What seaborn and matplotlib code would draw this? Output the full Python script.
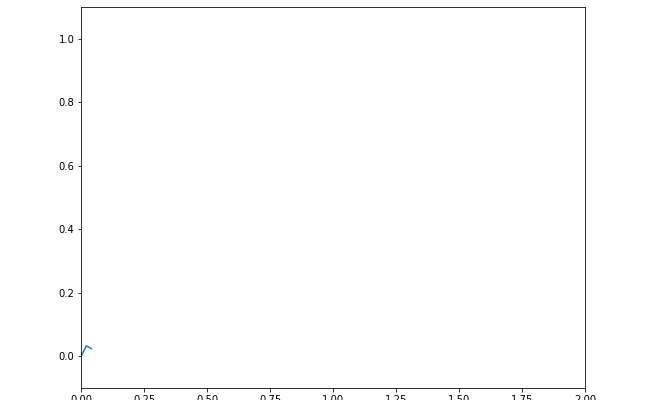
import pandas as pd
import matplotlib
matplotlib.use('Agg')
import matplotlib.pyplot as plt
import seaborn as sns

# 数据：曲线刚开始的几个点
x_vals = [0.0, 0.02, 0.04]
y_vals = [0.0, 0.033, 0.024]

df = pd.DataFrame({'x': x_vals, 'y': y_vals})

fig = plt.figure(figsize=(650 / 72, 400 / 72), dpi=72)
ax = fig.add_subplot(111)
fig.subplots_adjust(left=0.125, right=0.9, top=0.9825, bottom=0.03)

sns.lineplot(x='x', y='y', data=df, ax=ax, color='#1f77b4', linewidth=1.5,
             sort=False, estimator=None)
ax.set_xlim(0, 2)
ax.set_ylim(-0.1, 1.1)
ax.set_xlabel('')
ax.set_ylabel('')

plt.savefig('out.png', dpi=72)
